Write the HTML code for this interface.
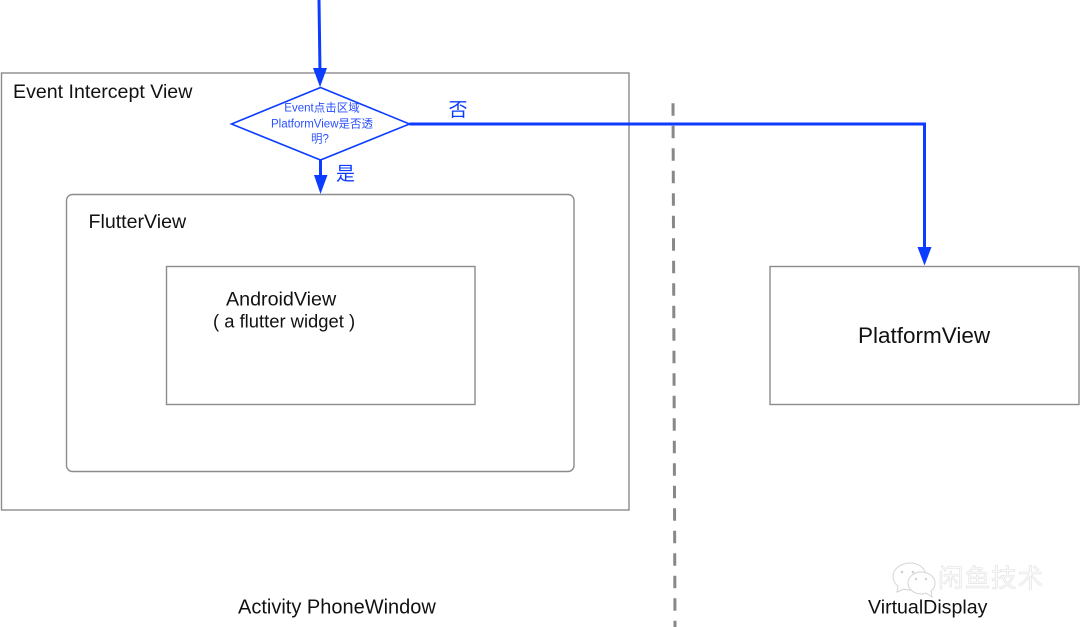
<!DOCTYPE html>
<html><head><meta charset="utf-8"><style>
html,body{margin:0;padding:0;background:#fff;width:1080px;height:627px;overflow:hidden}
svg{display:block}
text{font-family:"Liberation Sans","Noto Sans CJK SC",sans-serif;fill:#111}
</style></head><body>
<svg width="1080" height="627" viewBox="0 0 1080 627" xmlns="http://www.w3.org/2000/svg">
<rect width="1080" height="627" fill="#fff"/>
<g fill="none" stroke="#8c8c8c" stroke-width="1.4">
<rect x="1.5" y="73" width="627.5" height="437"/>
<rect x="66.5" y="194.5" width="507.5" height="277" rx="6"/>
<rect x="166.5" y="266.5" width="308.5" height="138"/>
<rect x="770" y="266.5" width="309" height="138"/>
</g>
<line x1="673" y1="103.3" x2="675" y2="627" stroke="#888" stroke-width="3" stroke-dasharray="12.5 10"/>
<g fill="none" stroke="#0b3cff">
<line x1="319" y1="0" x2="320" y2="72" stroke-width="3"/>
<polygon points="231.5,124 320.5,87.5 409.5,124 320.5,160" fill="#fff" stroke-width="1.6"/>
<line x1="320.5" y1="160" x2="320.5" y2="177" stroke-width="3"/>
<polyline points="409.5,124 924.5,124 924.5,250" stroke-width="3"/>
</g>
<g fill="#0b3cff">
<polygon points="313,68 327,68 320,87"/>
<polygon points="314,175 327.5,175 320.5,194"/>
<polygon points="917.5,247 931.5,247 924.5,265.5"/>
</g>
<g font-size="11.5" text-anchor="middle">
<text x="322" y="111.5" style="fill:#2a50ff">Event点击区域</text>
<text x="322" y="127.5" style="fill:#2a50ff">PlatformView是否透</text>
<text x="320" y="142.5" style="fill:#2a50ff">明?</text>
</g>
<text x="458" y="116" font-size="19" text-anchor="middle" style="fill:#0b3cff">否</text>
<text x="345.5" y="180" font-size="19" text-anchor="middle" style="fill:#0b3cff">是</text>
<text x="13" y="98" font-size="19.6">Event Intercept View</text>
<text x="88.5" y="228" font-size="19.6">FlutterView</text>
<text x="226" y="305.5" font-size="19.7">AndroidView</text>
<text x="213" y="327.5" font-size="18.4">( a flutter widget )</text>
<text x="858" y="343" font-size="22.5">PlatformView</text>
<text x="238" y="613.5" font-size="20">Activity PhoneWindow</text>
<text x="868" y="613.5" font-size="19.6">VirtualDisplay</text>
<g fill="#fff" stroke="#d4d4d4" stroke-width="1">
<path d="M910,563c-9,0-17,6-17,13c0,4,2,8,5,10l-1,6l7,-3c2,1,4,1,6,1c8,0,16,-6,16,-14s-8,-13,-16,-13z"/>
<path d="M921,572c-7,0-13,5-13,11s6,11,13,11c2,0,4,0,5,-1l6,4l-1,-6c3,-2,4,-5,4,-8c0,-6,-6,-11,-14,-11z"/>
</g>
<g fill="#cfcfcf">
<circle cx="902" cy="572" r="1.3"/><circle cx="913" cy="572" r="1.3"/>
<circle cx="916" cy="579" r="1.2"/><circle cx="926" cy="579" r="1.2"/>
</g>
<text x="938" y="587" font-size="25.5" letter-spacing="1" style="fill:#fbfbfb;stroke:#e2e2e2;stroke-width:.6">闲鱼技术</text>
</svg>
</body></html>
